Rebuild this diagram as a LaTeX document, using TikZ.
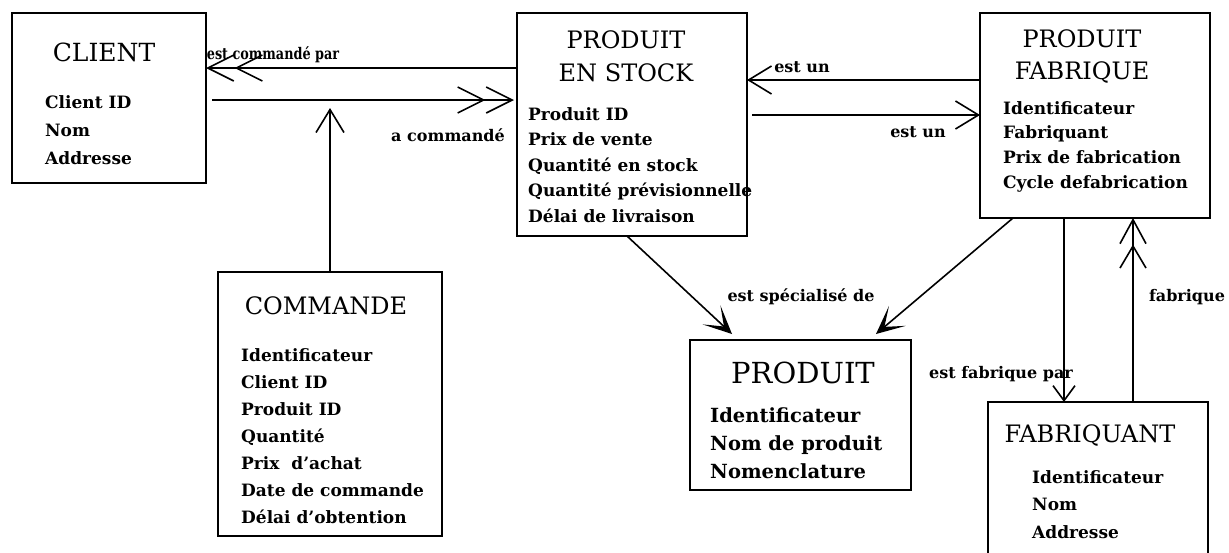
\documentclass[tikz,border=0pt]{standalone}
\usepackage{fontspec}
\setmainfont{DejaVu Serif}
\usetikzlibrary{arrows.meta,calc}
\begin{document}
\begin{tikzpicture}[x=1pt,y=-1pt,
  box/.style={draw,line width=1.8pt,inner sep=0pt,outer sep=0pt},
  ttl/.style={font=\fontsize{24}{28}\selectfont,inner sep=0pt,anchor=base},
  att/.style={font=\bfseries\fontsize{17}{20}\selectfont,inner sep=0pt,anchor=base west},
  bigatt/.style={font=\bfseries\fontsize{19.5}{22}\selectfont,inner sep=0pt,anchor=base west},
  lbl/.style={font=\bfseries\fontsize{16}{20}\selectfont,inner sep=0pt,anchor=base},
  con/.style={line width=1.6pt},
  dbl/.style={con,-{Straight Barb[length=26pt,width=26pt,sep=0pt]Straight Barb[length=26pt,width=26pt]}},
  dblv/.style={con,-{Straight Barb[length=22pt,width=26pt,sep=0pt]Straight Barb[length=24pt,width=26pt]}},
  sgl/.style={con,-{Straight Barb[length=23pt,width=28pt]}},
  small/.style={con,-{Straight Barb[length=15pt,width=22pt]}},
  spec/.style={con,-{Stealth[length=28pt,width=26pt,inset=17pt]}}
]
\useasboundingbox (0,0) rectangle (1229,552);
\clip (0,0) rectangle (1229,552);

% boxes
\node[box,minimum width=194pt,minimum height=170pt] (client) at (109,98) {};
\node[box,minimum width=230pt,minimum height=223pt] (pes) at (632,124.5) {};
\node[box,minimum width=230pt,minimum height=205pt] (pf) at (1095,115.5) {};
\node[box,minimum width=224pt,minimum height=264pt] (commande) at (330,404) {};
\node[box,minimum width=221pt,minimum height=150pt] (produit) at (800.5,415) {};
\node[box,minimum width=220pt,minimum height=178pt] (fab) at (1098,491) {};

% titles
\node[ttl,font=\fontsize{25}{28}\selectfont] (tclient) at (104,61) {CLIENT};
\node[ttl] (tpes1) at (626,48) {PRODUIT};
\node[ttl] (tpes2) at (626,81) {EN STOCK};
\node[ttl] (tpf1) at (1082,47) {PRODUIT};
\node[ttl] (tpf2) at (1082,79) {FABRIQUE};
\node[ttl] (tcmd) at (326,314) {COMMANDE};
\node[ttl] (tfab) at (1090,442) {FABRIQUANT};
\node[ttl,font=\fontsize{29}{32}\selectfont] (tprod) at (803,383) {PRODUIT};

% attributes
\foreach \t [count=\i] in {Client ID,Nom,Addresse}
  \node[att] (cla\i) at (45,{108+28*(\i-1)}) {\t};
\foreach \t [count=\i] in {Produit ID,Prix de vente,Quantité en stock,Quantité prévisionnelle,Délai de livraison}
  \node[att] (pea\i) at (528,{120+25.5*(\i-1)}) {\t};
\foreach \t [count=\i] in {Identificateur,Fabriquant,Prix de fabrication,Cycle defabrication}
  \node[att] (pfa\i) at (1003,{114+24.7*(\i-1)}) {\t};
\foreach \t [count=\i] in {Identificateur,Client ID,Produit ID,Quantité,Prix\ \ d'achat,Date de commande,Délai d'obtention}
  \node[att] (cma\i) at (241,{361+27*(\i-1)}) {\t};
\foreach \t [count=\i] in {Identificateur,Nom de produit,Nomenclature}
  \node[bigatt] (pra\i) at (710,{422+28*(\i-1)}) {\t};
\foreach \t [count=\i] in {Identificateur,Nom,Addresse}
  \node[att] (faa\i) at (1032,{483+27.5*(\i-1)}) {\t};

% connectors
\draw[dbl] (pes.west |- 0,68) -- (client.east |- 0,68);
\draw[dbl] ($(client.east |- 0,100)+(6,0)$) -- ($(pes.west |- 0,100)+(-3,0)$);
\coordinate (cmdtip) at (330,108);
\draw[sgl] (commande.north) -- (cmdtip);
\draw[sgl] (pf.west |- 0,80) -- (pes.east |- 0,80);
\draw[sgl] ($(pes.east |- 0,115)+(5,0)$) -- (pf.west |- 0,115);
\coordinate (sp1) at ($(produit.north west)+(42,-6)$);
\coordinate (sp2) at ($(produit.north west)+(186,-6)$);
\draw[spec] ($(pes.south west)+(110,0)$) -- (sp1);
\draw[spec] ($(pf.south west)+(33,0)$) -- (sp2);
\draw[small] ($(pf.south west)+(84,0)$) -- ($(fab.north west)+(76,0)$);
\draw[dblv] ($(fab.north west)+(145,0)$) -- ($(pf.south west)+(153,0)$);

% labels
\node[lbl,font=\bfseries\fontsize{16}{20}\selectfont\addfontfeature{FakeStretch=0.8}] (l1) at (273,59) {est commandé par};
\node[lbl,anchor=base east] (l2) at (505,141) {a commandé};
\node[lbl] (l3) at (802,72) {est un};
\node[lbl] (l4) at (918,137) {est un};
\node[lbl] (l5) at (801,301) {est spécialisé de};
\node[lbl] (l6) at (1001,378) {est fabrique par};
\node[lbl] (l7) at (1187,301) {fabrique};
\end{tikzpicture}
\end{document}
